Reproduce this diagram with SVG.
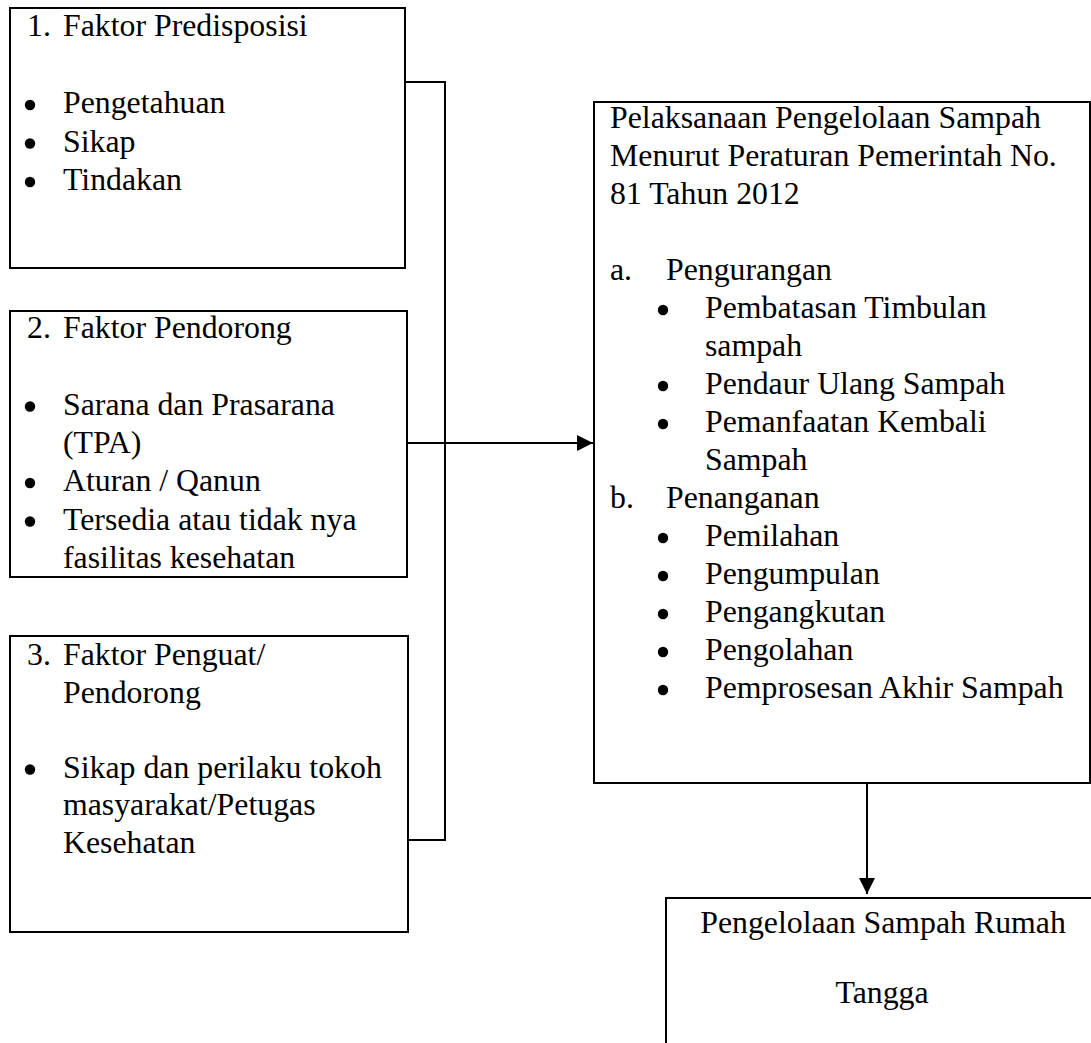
<svg xmlns="http://www.w3.org/2000/svg" width="1091" height="1043" viewBox="0 0 1091 1043">
<style>
  .box { fill: #fff; stroke: #000; stroke-width: 2; }
  .t { font-family: "Liberation Serif", "Times New Roman", serif; font-size: 31.8px; fill: #000; }
  .c { text-anchor: middle; }
  .bul { fill: #000; }
  .conn { fill: none; stroke: #000; stroke-width: 2; }
</style>
<defs>
  <marker id="arr" viewBox="0 0 16 16" refX="16" refY="8" markerWidth="16" markerHeight="16" markerUnits="userSpaceOnUse" orient="auto">
    <path d="M0,0 L16,8 L0,16 Z" fill="#000"/>
  </marker>
</defs>

<g id="connectors">
  <path class="conn" d="M405,82 H445 V840 H404"/>
  <path class="conn" d="M404,443 H593" marker-end="url(#arr)"/>
  <path class="conn" d="M867,783 V894" marker-end="url(#arr)"/>
</g>

<g id="node-predisposisi">
  <rect class="box" x="10" y="8" width="395" height="260"/>
  <text class="t" x="27" y="36">1.</text>
  <text class="t" x="63" y="36">Faktor Predisposisi</text>
  <circle class="bul" cx="30" cy="105" r="5.2"/>
  <text class="t" x="63" y="113">Pengetahuan</text>
  <circle class="bul" cx="30" cy="143.5" r="5.2"/>
  <text class="t" x="63" y="151.5">Sikap</text>
  <circle class="bul" cx="30" cy="182" r="5.2"/>
  <text class="t" x="63" y="190">Tindakan</text>
</g>

<g id="node-pendorong">
  <rect class="box" x="10" y="311" width="397" height="266"/>
  <text class="t" x="27" y="338">2.</text>
  <text class="t" x="63" y="338">Faktor Pendorong</text>
  <circle class="bul" cx="30" cy="406.5" r="5.2"/>
  <text class="t" x="63" y="414.5">Sarana dan Prasarana</text>
  <text class="t" x="63" y="453">(TPA)</text>
  <circle class="bul" cx="30" cy="483" r="5.2"/>
  <text class="t" x="63" y="491">Aturan / Qanun</text>
  <circle class="bul" cx="30" cy="521.5" r="5.2"/>
  <text class="t" x="63" y="529.5">Tersedia atau tidak nya</text>
  <text class="t" x="63" y="568">fasilitas kesehatan</text>
</g>

<g id="node-penguat">
  <rect class="box" x="10" y="636" width="398" height="296"/>
  <text class="t" x="27" y="665">3.</text>
  <text class="t" x="63" y="665">Faktor Penguat/</text>
  <text class="t" x="63" y="702.5">Pendorong</text>
  <circle class="bul" cx="30" cy="769.5" r="5.2"/>
  <text class="t" x="63" y="777.5">Sikap dan perilaku tokoh</text>
  <text class="t" x="63" y="815">masyarakat/Petugas</text>
  <text class="t" x="63" y="852.5">Kesehatan</text>
</g>

<g id="node-pelaksanaan">
  <rect class="box" x="594" y="102" width="496" height="681"/>
  <text class="t" x="610" y="128">Pelaksanaan Pengelolaan Sampah</text>
  <text class="t" x="610" y="166">Menurut Peraturan Pemerintah No.</text>
  <text class="t" x="610" y="204">81 Tahun 2012</text>
  <text class="t" x="610" y="280">a.</text>
  <text class="t" x="666" y="280">Pengurangan</text>
  <circle class="bul" cx="663" cy="310" r="5.2"/>
  <text class="t" x="705" y="318">Pembatasan Timbulan</text>
  <text class="t" x="705" y="356">sampah</text>
  <circle class="bul" cx="663" cy="386" r="5.2"/>
  <text class="t" x="705" y="394">Pendaur Ulang Sampah</text>
  <circle class="bul" cx="663" cy="424" r="5.2"/>
  <text class="t" x="705" y="432">Pemanfaatan Kembali</text>
  <text class="t" x="705" y="470">Sampah</text>
  <text class="t" x="610" y="508">b.</text>
  <text class="t" x="666" y="508">Penanganan</text>
  <circle class="bul" cx="663" cy="538" r="5.2"/>
  <text class="t" x="705" y="546">Pemilahan</text>
  <circle class="bul" cx="663" cy="576" r="5.2"/>
  <text class="t" x="705" y="584">Pengumpulan</text>
  <circle class="bul" cx="663" cy="614" r="5.2"/>
  <text class="t" x="705" y="622">Pengangkutan</text>
  <circle class="bul" cx="663" cy="652" r="5.2"/>
  <text class="t" x="705" y="660">Pengolahan</text>
  <circle class="bul" cx="663" cy="690" r="5.2"/>
  <text class="t" x="705" y="698">Pemprosesan Akhir Sampah</text>
</g>

<g id="node-rumah-tangga">
  <rect class="box" x="666" y="898" width="440" height="160"/>
  <text class="t c" x="883" y="933">Pengelolaan Sampah Rumah</text>
  <text class="t c" x="882" y="1003">Tangga</text>
</g>
</svg>
